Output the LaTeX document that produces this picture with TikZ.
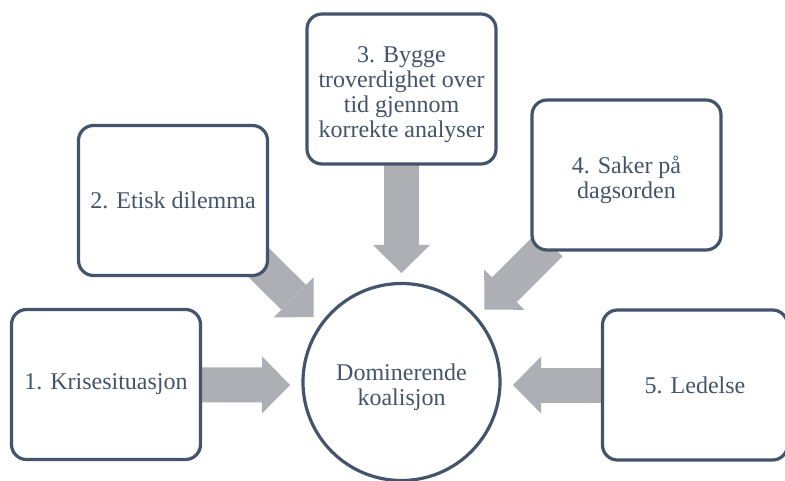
\documentclass[tikz,border=0pt]{standalone}
\usepackage{fontspec}
\setmainfont{Liberation Serif}
\usetikzlibrary{arrows.meta,backgrounds}
\definecolor{slate}{HTML}{44546A}
\definecolor{agray}{HTML}{ADAFB4}
\newcommand\topgap{\rule{0pt}{27pt}}
\begin{document}
\begin{tikzpicture}[x=1pt,y=-1pt,
  box/.style={draw=slate, line width=3.2pt, rounded corners=15pt, fill=white, text=slate,
    minimum width=189pt, minimum height=150pt, align=center, inner sep=0pt,
    font=\fontsize{24}{25}\selectfont},
  hub/.style={circle, draw=slate, line width=3.2pt, fill=white, text=slate,
    minimum size=197pt, align=center, inner sep=0pt,
    font=\fontsize{24}{25}\selectfont},
  flow/.style={draw=agray, line width=35pt, line cap=butt,
    -{Triangle[length=28pt,width=57pt,line width=0pt]}}]
\useasboundingbox (0,0) rectangle (785,481);
\node[box] (b1) at (106,384.5) {1. Krisesituasjon};
\node[box] (b2) at (173,200.5) {2. Etisk dilemma};
\node[box] (b3) at (401.5,89) {\topgap 3. Bygge\\troverdighet over\\tid gjennom\\korrekte analyser};
\node[box] (b4) at (626.5,175) {\topgap 4. Saker på\\dagsorden};
\node[box, minimum width=185pt] (b5) at (695,385) {5. Ledelse};
\node[hub] (c) at (401.5,382) {\topgap Dominerende\\koalisjon};
\coordinate (t1) at (290,385);
\coordinate (s2) at (250,254);
\coordinate (t2) at (313.5,317);
\coordinate (t3) at (401.5,273);
\coordinate (s4) at (550,244);
\coordinate (t4) at (484.5,309.5);
\coordinate (t5) at (513,385);
\begin{pgfonlayer}{background}
\draw[flow] (b1.center) -- (t1);
\draw[flow] (s2) -- (t2);
\draw[flow] (b3.center) -- (t3);
\draw[flow] (s4) -- (t4);
\draw[flow] (b5.center) -- (t5);
\end{pgfonlayer}
\end{tikzpicture}
\end{document}
